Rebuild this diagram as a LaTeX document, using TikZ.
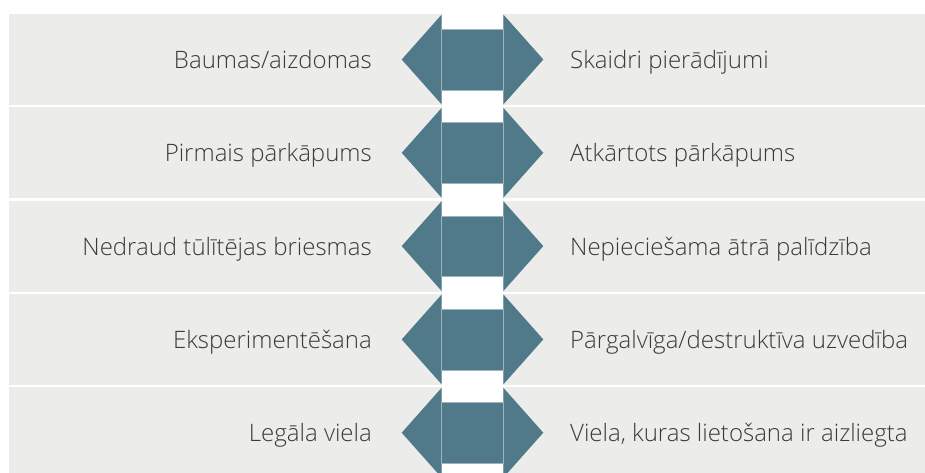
\documentclass[tikz,border=0pt]{standalone}
\usepackage{fontspec}
\setmainfont{Open Sans Light}
\definecolor{rowgray}{HTML}{ECECEA}
\definecolor{teal}{HTML}{507A8A}
\definecolor{edge}{HTML}{9DB3BD}
\definecolor{txt}{HTML}{3A3A3A}
\tikzset{
  rowbox/.style={fill=rowgray},
  lefttext/.style={anchor=east, text=txt, font=\fontsize{24}{28}\selectfont, inner sep=0pt},
  righttext/.style={anchor=west, text=txt, font=\fontsize{24}{28}\selectfont, inner sep=0pt},
  arrowtri/.style={fill=teal},
  midbox/.style={fill=teal, draw=edge, line width=0.8pt},
}
\begin{document}
\begin{tikzpicture}[x=1pt,y=-1pt]
\useasboundingbox (0,0) rectangle (925,472);
\fill[white] (0,0) rectangle (925,472);
\begin{scope}
\clip (0,0) rectangle (925,472);
\foreach \i/\L/\R in {0/Baumas\slash aizdomas/Skaidri pierādījumi,
                      1/Pirmais pārkāpums/Atkārtots pārkāpums,
                      2/Nedraud tūlītējas briesmas/Nepieciešama ātrā palīdzība,
                      3/Eksperimentēšana/Pārgalvīga\slash destruktīva uzvedība,
                      4/Legāla viela/{Viela, kuras lietošana ir aizliegta}}{
  \pgfmathsetmacro{\t}{14+93.3*\i}
  \pgfmathsetmacro{\b}{\t+91}
  \pgfmathsetmacro{\c}{\t+45.5}
  \fill[rowbox] (9,\t) rectangle (925,\b);
  \fill[white] (441.7,\t) rectangle (503.3,\b);
  \fill[arrowtri] (441.7,\t+0.5) -- (401.7,\c) -- (441.7,\b-0.5) -- cycle;
  \fill[arrowtri] (503.3,\t+0.5) -- (543.3,\c) -- (503.3,\b-0.5) -- cycle;
  \filldraw[midbox] (441.7,\t+15.3) rectangle (503.3,\t+76);
  \node[lefttext] (l\i) at (372,\c+0.5) {\vphantom{B}\smash{\L}};
  \node[righttext] (r\i) at (570,\c+0.5) {\vphantom{B}\smash{\R}};
}
\end{scope}
\end{tikzpicture}
\end{document}
